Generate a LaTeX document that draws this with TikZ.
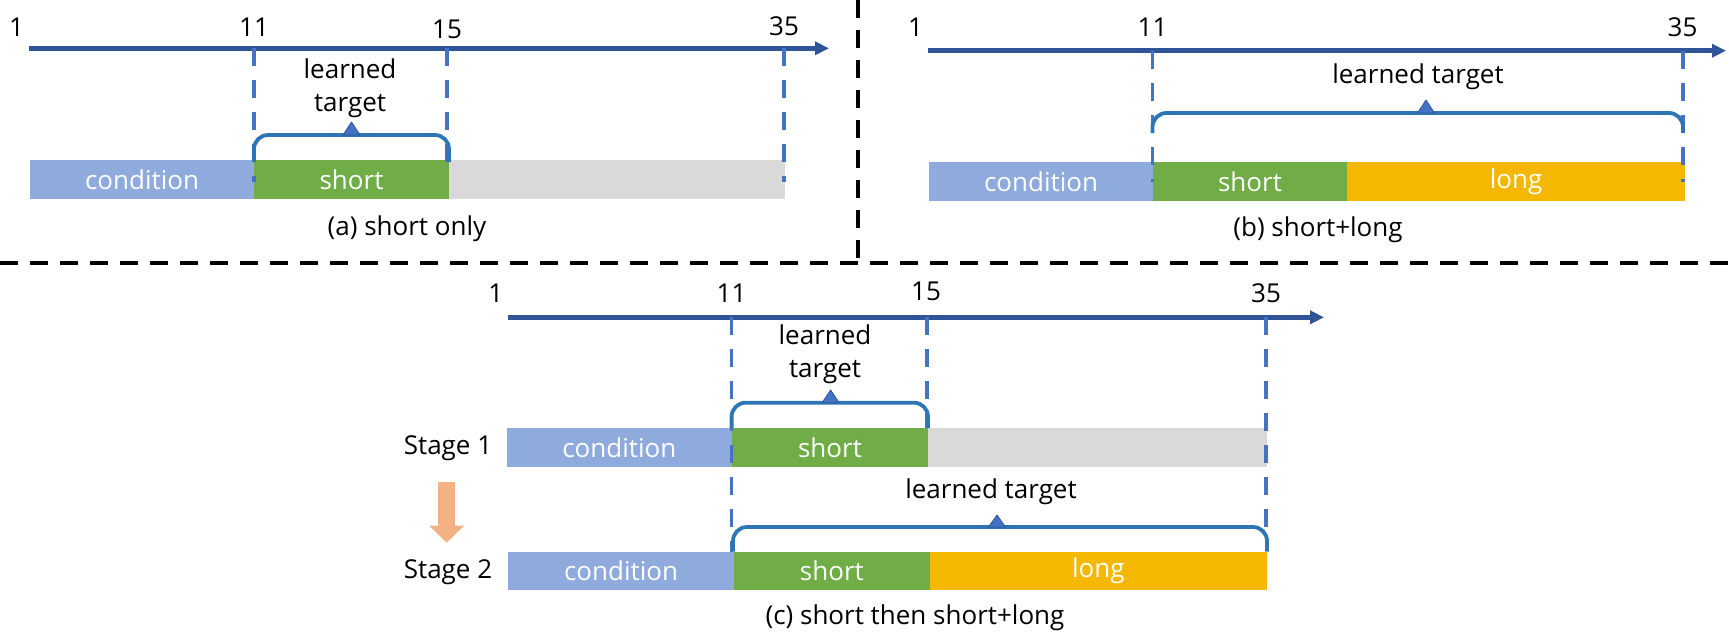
\documentclass[tikz,border=0pt]{standalone}
\usepackage{fontspec}
\setmainfont{Open Sans}
\usetikzlibrary{arrows.meta}
\definecolor{condc}{HTML}{8FAADC}
\definecolor{shortc}{HTML}{70AD47}
\definecolor{grayc}{HTML}{D9D9D9}
\definecolor{longc}{HTML}{F4B800}
\definecolor{axisc}{HTML}{2F5597}
\definecolor{guidec}{HTML}{4472C4}
\definecolor{bracec}{HTML}{2E75B6}
\definecolor{stagec}{HTML}{F4B183}
\begin{document}
\begin{tikzpicture}[x=1pt,y=-1pt,
 txt/.style={font=\fontsize{26}{33}\selectfont, inner sep=0pt, outer sep=0pt},
 bar/.style={txt, text=white, anchor=north west, minimum height=39pt},
 timeaxis/.style={draw=axisc, line width=4.5pt, -{Triangle[length=14pt,width=13pt]}},
 guide/.style={draw=guidec, line width=3.6pt, dash pattern=on 18pt off 14pt},
 bracket/.style={draw=bracec, line width=3.8pt, rounded corners=14pt},
 tri/.style={fill=guidec, draw=axisc, line width=0.8pt, line join=round},
 divider/.style={draw=black, line width=4.5pt, dash pattern=on 18pt off 12pt},
 stagearrow/.style={draw=stagec, line width=17pt, -{Triangle[length=17pt,width=34pt]}},
]
\useasboundingbox (0,0) rectangle (1729,638);

% dividers
\coordinate (dv1) at (858,0); \coordinate (dv2) at (858,263);
\coordinate (dh1) at (0,263); \coordinate (dh2) at (1729,263);
\draw[divider] (dv1) -- (dv2);
\draw[divider] (dh1) -- (dh2);

%%%%%%%% (a)
\node[bar, fill=condc, minimum width=224pt] (acond) at (30,160) {condition};
\node[bar, fill=shortc, minimum width=195pt] (ashort) at (254,160) {short};
\node[bar, fill=grayc, minimum width=336pt] (agray) at (449,160) {};
\coordinate (aax0) at (28.6,48.3); \coordinate (aax1) at (829,48.3);
\draw[timeaxis] (aax0) -- (aax1);
\node[txt] (an1) at (16.5,27) {1};
\node[txt] (an11) at (254,27) {11};
\node[txt] (an15) at (447,29) {15};
\node[txt] (an35) at (784,26) {35};
\coordinate (ag11a) at (254,48.3); \coordinate (ag11b) at (254,182);
\coordinate (ag15a) at (447,48.3); \coordinate (ag15b) at (447,163);
\coordinate (ag35a) at (784,48.3); \coordinate (ag35b) at (784,182);
\draw[guide] (ag11a) -- (ag11b);
\draw[guide] (ag15a) -- (ag15b);
\draw[guide] (ag35a) -- (ag35b);
\draw[bracket] (254,162) -- (254,135) -- (449,135) -- (449,162);
\draw[tri] (351.5,122) -- (343,135) -- (360,135) -- cycle;
\node[txt, align=center] (alt) at (350,88.5) {learned\\target};
\node[txt] (acap) at (407,229) {(a) short only};

%%%%%%%% (b)
\node[bar, fill=condc, minimum width=224pt] (bcond) at (929,162) {condition};
\node[bar, fill=shortc, minimum width=194pt] (bshort) at (1153,162) {short};
\node[bar, fill=longc, minimum width=338pt] (blong) at (1347,162) {long};
\coordinate (bax0) at (927.7,50.7); \coordinate (bax1) at (1726,50.7);
\draw[timeaxis] (bax0) -- (bax1);
\node[txt] (bn1) at (915.5,27) {1};
\node[txt] (bn11) at (1152.5,27) {11};
\node[txt] (bn35) at (1682.5,27) {35};
\coordinate (bg11a) at (1152.5,50.7); \coordinate (bg11b) at (1152.5,182);
\coordinate (bg35a) at (1683,50.7); \coordinate (bg35b) at (1683,182);
\draw[guide] (bg11a) -- (bg11b);
\draw[guide] (bg35a) -- (bg35b);
\draw[bracket] (1152.5,133) -- (1152.5,113) -- (1683,113) -- (1683,133);
\draw[tri] (1426,100) -- (1417.5,113) -- (1434.5,113) -- cycle;
\node[txt] (blt) at (1418,77) {learned target};
\node[txt] (bcap) at (1318,230) {(b) short+long};

%%%%%%%% (c)
\node[bar, fill=condc, minimum width=224.6pt] (c1cond) at (507,428) {condition};
\node[bar, fill=shortc, minimum width=196.8pt] (c1short) at (731.6,428) {short};
\node[bar, fill=grayc, minimum width=338.6pt] (c1gray) at (928.4,428) {};
\node[bar, fill=condc, minimum width=226pt, minimum height=38.3pt] (c2cond) at (508,551.7) {condition};
\node[bar, fill=shortc, minimum width=195.7pt, minimum height=38.3pt] (c2short) at (734,551.7) {short};
\node[bar, fill=longc, minimum width=337.3pt, minimum height=38.3pt] (c2long) at (929.7,551.7) {long};
\coordinate (cax0) at (508,317.3); \coordinate (cax1) at (1324,317.3);
\draw[timeaxis] (cax0) -- (cax1);
\node[txt] (cn1) at (495.8,293) {1};
\node[txt] (cn11) at (731.6,293) {11};
\node[txt] (cn15) at (926,291.7) {15};
\node[txt] (cn35) at (1266,293) {35};
\coordinate (cg11a) at (731.6,317.3); \coordinate (cg11b) at (731.6,552);
\coordinate (cg15a) at (927,317.3); \coordinate (cg15b) at (927,428);
\coordinate (cg35a) at (1266,317.3); \coordinate (cg35b) at (1266,540);
\draw[guide] (cg11a) -- (cg11b);
\draw[guide] (cg15a) -- (cg15b);
\draw[guide] (cg35a) -- (cg35b);
\draw[bracket] (731.6,428) -- (731.6,402.7) -- (928,402.7) -- (928,428);
\draw[tri] (830.6,390) -- (822.1,402.7) -- (839.1,402.7) -- cycle;
\node[txt, align=center] (c1lt) at (825,354.2) {learned\\target};
\draw[bracket] (733,551.7) -- (733,527) -- (1267,527) -- (1267,551.7);
\draw[tri] (997,515) -- (988.5,527) -- (1005.5,527) -- cycle;
\node[txt] (c2lt) at (991,492) {learned target};
\node[txt] (s1) at (448,448) {Stage 1};
\node[txt] (s2) at (448,571.7) {Stage 2};
\coordinate (sa0) at (446.7,481.7); \coordinate (sa1) at (446.7,542.7);
\draw[stagearrow] (sa0) -- (sa1);
\node[txt] (ccap) at (915,618) {(c) short then short+long};
\end{tikzpicture}
\end{document}
